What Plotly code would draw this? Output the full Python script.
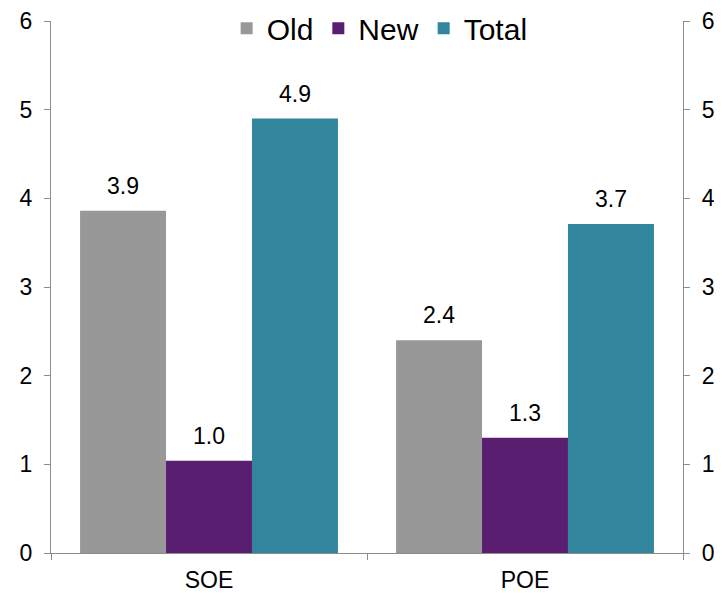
import plotly.graph_objects as go

categories = ["SOE", "POE"]
old_vals = [3.86, 2.40]
new_vals = [1.04, 1.30]
total_vals = [4.90, 3.71]
series_names = ["Old", "New", "Total"]
series_colors = ["#989898", "#5A1E71", "#31859C"]
y_ticks = [0, 1, 2, 3, 4, 5, 6]

FONT = "Liberation Sans, Arial, sans-serif"
BARGAP = 0.184
TICK_SIZE = 23

fig = go.Figure()
series = [old_vals, new_vals, total_vals]
for name, vals, col in zip(series_names, series, series_colors):
    fig.add_trace(go.Bar(
        x=categories, y=vals, name=name, marker=dict(color=col, line=dict(width=0)),
        offsetgroup=name, hoverinfo="skip"))
for name, vals in zip(series_names, series):
    fig.add_trace(go.Scatter(
        x=categories, y=vals, mode="markers+text", text=[f"{v:.1f}" for v in vals],
        textposition="top center", textfont=dict(size=TICK_SIZE, color="#000000", family=FONT),
        marker=dict(size=16, opacity=0), offsetgroup=name, showlegend=False,
        hoverinfo="skip", cliponaxis=False))
# dummy trace for right axis
fig.add_trace(go.Scatter(x=categories, y=[None, None], yaxis="y2", showlegend=False,
                         mode="lines", hoverinfo="skip"))

axis_line = "#8C8C8C"
fig.update_layout(
    width=722, height=593,
    margin=dict(l=43, r=47, t=13, b=48, autoexpand=False),
    paper_bgcolor="white", plot_bgcolor="white",
    barmode="group", bargap=BARGAP, bargroupgap=0,
    scattermode="group", scattergap=BARGAP,
    font=dict(family=FONT, size=TICK_SIZE, color="#000000"),
    xaxis=dict(type="category", showline=True, linecolor=axis_line, linewidth=1.3,
               ticks="outside", tickson="boundaries", ticklen=6, tickcolor=axis_line,
               tickwidth=1.3, showgrid=False, tickfont=dict(size=TICK_SIZE),
               ticklabelstandoff=6),
    yaxis=dict(range=[0, 6], tickvals=y_ticks, showline=True, linecolor=axis_line,
               linewidth=1.3, ticks="outside", ticklen=6, tickcolor=axis_line, tickwidth=1.3,
               showgrid=False, zeroline=False, tickfont=dict(size=TICK_SIZE), ticklabelstandoff=7),
    yaxis2=dict(range=[0, 6], tickvals=y_ticks, overlaying="y", side="right", showline=True,
                linecolor=axis_line, linewidth=1.3, ticks="outside", ticklen=6,
                tickcolor=axis_line, tickwidth=1.3, showgrid=False, zeroline=False,
                tickfont=dict(size=TICK_SIZE), ticklabelstandoff=7),
    legend=dict(orientation="h", x=0.52, xanchor="center", xref="paper",
                y=0.966, yanchor="middle", yref="container",
                font=dict(size=30), bgcolor="rgba(0,0,0,0)", itemclick=False,
                itemwidth=30, tracegroupgap=0),
    showlegend=True,
)

fig.write_html("out.html")
